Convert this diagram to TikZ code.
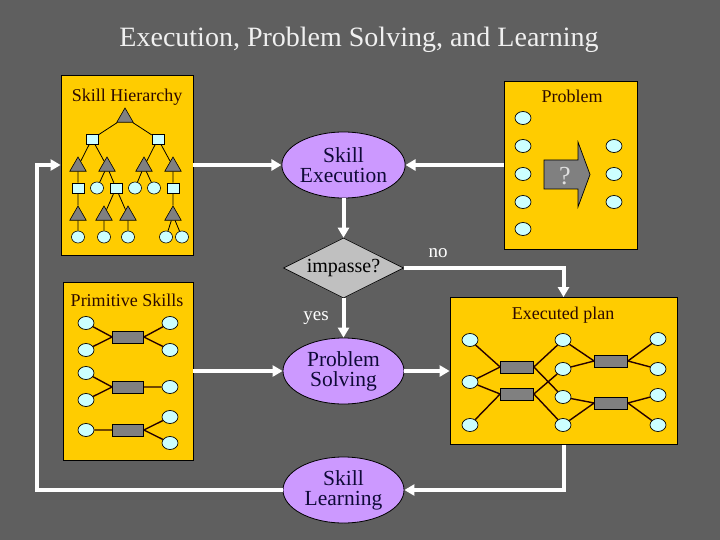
\documentclass[tikz,border=0pt]{standalone}
\usepackage{fontspec}
\setmainfont{Liberation Serif}
\usepackage{xcolor}
\usepackage{tikz}
\usetikzlibrary{positioning,arrows.meta,calc,shapes.geometric}

\definecolor{slide}{RGB}{95,95,95}
\definecolor{panelgold}{RGB}{255,204,0}
\definecolor{iceblue}{RGB}{204,255,255}
\definecolor{lilac}{RGB}{204,153,255}
\definecolor{stone}{RGB}{128,128,128}
\definecolor{silver}{RGB}{192,192,192}
\definecolor{inkbrown}{RGB}{45,10,0}
\definecolor{inknavy}{RGB}{15,10,55}

\begin{document}
\begin{tikzpicture}[x=1pt, y=-1pt,
    panel/.style={rectangle, draw=black, line width=0.8pt, fill=panelgold, inner sep=0pt},
    ptitle/.style={anchor=base, inner sep=0pt, text=inkbrown, font=\fontsize{18}{20}\selectfont},
    proc/.style={ellipse, draw=black, line width=0.8pt, fill=lilac, minimum width=121pt, minimum height=66pt,
                 inner sep=0pt, align=center, text=inknavy, font=\fontsize{21.5}{20}\selectfont},
    test/.style={diamond, aspect=2, draw=black, line width=0.6pt, fill=silver, minimum width=120pt,
                 minimum height=60pt, inner sep=0pt, font=\fontsize{20}{20}\selectfont},
    flow/.style={-{Triangle[length=10pt,width=11pt]}, line width=4pt, draw=white},
    flabel/.style={anchor=base, inner sep=0pt, text=white, font=\fontsize{19}{20}\selectfont},
    tri/.style={regular polygon, regular polygon sides=3, draw=black, line width=0.6pt, fill=stone,
                minimum size=19pt, inner sep=0pt},
    sq/.style={rectangle, draw=black, line width=0.6pt, fill=iceblue, minimum width=12pt, minimum height=10pt, inner sep=0pt},
    dot/.style={ellipse, draw=black, line width=0.6pt, fill=iceblue, minimum width=13pt, minimum height=12pt, inner sep=0pt},
    pdot/.style={ellipse, draw=black, line width=0.7pt, fill=iceblue, minimum width=16pt, minimum height=13pt, inner sep=0pt},
    opbox/.style={rectangle, draw=black, line width=0.7pt, fill=stone, minimum width=31pt, minimum height=12pt, inner sep=0pt},
    thin link/.style={draw=black, line width=0.8pt},
    link/.style={draw=black!85!red, line width=1.4pt}
]

\fill[slide] (0,0) rectangle (720,540);

\node[anchor=base, inner sep=0pt, text=white!94!black, font=\fontsize{28}{30}\selectfont] (title) at (359,47)
  {Execution, Problem Solving, and Learning};

% panels
\node[panel, minimum width=132pt, minimum height=180pt] (hier) at (127,165) {};
\node[panel, minimum width=133pt, minimum height=168pt] (probpanel) at (570.5,165) {};
\node[panel, minimum width=130pt, minimum height=178pt] (prim) at (128,371) {};
\node[panel, minimum width=227pt, minimum height=147pt] (plan) at (563.5,371) {};

\node[ptitle] (hiertitle) at (127,102) {Skill Hierarchy};
\node[ptitle] (probtitle) at (572,102.5) {Problem};
\node[ptitle] (primtitle) at (127,306) {Primitive Skills};
\node[ptitle] (plantitle) at (563,319.5) {Executed plan};

% skill hierarchy tree
\node[tri] (h0)  at (125,117.5) {};
\node[sq]  (h1a) at (92,139) {};
\node[sq]  (h1b) at (158,139) {};
\node[tri] (h2a) at (78,166.5) {};
\node[tri] (h2b) at (107,166.5) {};
\node[tri] (h2c) at (144,166.5) {};
\node[tri] (h2d) at (173,166.5) {};
\node[sq]  (h3a) at (78,188) {};
\node[dot] (h3b) at (97,188) {};
\node[sq]  (h3c) at (116,188) {};
\node[dot] (h3d) at (135,188) {};
\node[dot] (h3e) at (154,188) {};
\node[sq]  (h3f) at (173,188) {};
\node[tri] (h4a) at (78,215.5) {};
\node[tri] (h4b) at (104,215.5) {};
\node[tri] (h4c) at (128,215.5) {};
\node[tri] (h4d) at (173,215.5) {};
\node[dot] (h5a) at (78,237) {};
\node[dot] (h5b) at (104,237) {};
\node[dot] (h5c) at (128,237) {};
\node[dot] (h5d) at (166,237) {};
\node[dot] (h5e) at (182,237) {};

\draw[thin link] (h0) -- (h1a) (h0) -- (h1b)
  (h1a) -- (h2a) (h1a) -- (h2b) (h1b) -- (h2c) (h1b) -- (h2d)
  (h2a) -- (h3a) (h2b) -- (h3b) (h2b) -- (h3c) (h2c) -- (h3d) (h2c) -- (h3e) (h2d) -- (h3f)
  (h3a) -- (h4a) (h3c) -- (h4b) (h3c) -- (h4c) (h3f) -- (h4d)
  (h4a) -- (h5a) (h4b) -- (h5b) (h4c) -- (h5c) (h4d) -- (h5d) (h4d) -- (h5e);

% problem panel
\node[pdot] (pin1) at (523,118) {};
\node[pdot] (pin2) at (523,146) {};
\node[pdot] (pin3) at (523,174) {};
\node[pdot] (pin4) at (523,202) {};
\node[pdot] (pin5) at (523,229) {};
\node[pdot] (pout1) at (614,146) {};
\node[pdot] (pout2) at (614,174) {};
\node[pdot] (pout3) at (614,202) {};
\draw[draw=black, line width=0.7pt, fill=stone]
  (544,160) -- (578,160) -- (578,142) -- (590,174.5) -- (578,207) -- (578,189) -- (544,189) -- cycle;
\node[anchor=base, inner sep=0pt, text=white!88!black, font=\fontsize{26}{26}\selectfont] (unknown) at (565,185) {?};

% primitive skills
\node[pdot] (pa1) at (86,323) {};
\node[pdot] (pa2) at (86,350) {};
\node[opbox] (opa) at (128,337) {};
\node[pdot] (pa3) at (170,323) {};
\node[pdot] (pa4) at (170,350) {};
\node[pdot] (pb1) at (86,373) {};
\node[pdot] (pb2) at (86,400) {};
\node[opbox] (opb) at (128,387) {};
\node[pdot] (pb3) at (170,387) {};
\node[pdot] (pc1) at (86,430) {};
\node[opbox] (opc) at (128,430) {};
\node[pdot] (pc2) at (170,417) {};
\node[pdot] (pc3) at (170,443) {};

\draw[link] (pa1) -- (opa.west) (pa2) -- (opa.west) (opa.east) -- (pa3) (opa.east) -- (pa4)
  (pb1) -- (opb.west) (pb2) -- (opb.west) (opb.east) -- (pb3)
  (pc1) -- (opc.west) (opc.east) -- (pc2) (opc.east) -- (pc3);

% executed plan
\node[pdot] (e1a) at (470,340) {};
\node[pdot] (e1b) at (470,382) {};
\node[pdot] (e1c) at (470,425) {};
\node[opbox, minimum width=33pt] (r1) at (517,367) {};
\node[opbox, minimum width=33pt] (r2) at (517,394) {};
\node[pdot] (e2a) at (563,340) {};
\node[pdot] (e2b) at (563,369) {};
\node[pdot] (e2c) at (563,397) {};
\node[pdot] (e2d) at (563,425) {};
\node[opbox, minimum width=33pt] (r3) at (611,361) {};
\node[opbox, minimum width=33pt] (r4) at (611,403) {};
\node[pdot] (e3a) at (658,339) {};
\node[pdot] (e3b) at (658,369) {};
\node[pdot] (e3c) at (658,395) {};
\node[pdot] (e3d) at (658,425) {};

\draw[link] (e1a) -- (r1.west) (e1b) -- (r1.west) (e1b) -- (r2.west) (e1c) -- (r2.west)
  (r1.east) -- (e2a) (r1.east) -- (e2c) (r2.east) -- (e2b) (r2.east) -- (e2d)
  (e2a) -- (r3.west) (e2b) -- (r3.west) (e2c) -- (r4.west) (e2d) -- (r4.west)
  (r3.east) -- (e3a) (r3.east) -- (e3b) (r4.east) -- (e3c) (r4.east) -- (e3d);

% process chain
\node[proc] (exec)  at (343.5,165) {Skill\\Execution};
\node[test] (imp)   at (343.5,268) {impasse?};
\node[proc] (solve) at (343.5,371) {Problem\\Solving};
\node[proc] (learn) at (343.5,490) {Skill\\Learning};

\node[flabel] (yes) at (316,320) {yes};
\node[flabel] (no)  at (438,257) {no};

\coordinate (loopcorner) at (37,490);

\draw[flow] (hier) -- (exec);
\draw[flow] (probpanel) -- (exec);
\draw[flow] (exec) -- (imp);
\draw[flow] (imp) -- (solve);
\draw[flow] (prim) -- (solve);
\draw[flow] (solve) -- (plan);
\draw[flow] (imp.east) -| (plan.north);
\draw[flow] (plan.south) |- (learn.east);
\draw[flow] (learn.west) -- (loopcorner) |- (hier.west);

\end{tikzpicture}
\end{document}
